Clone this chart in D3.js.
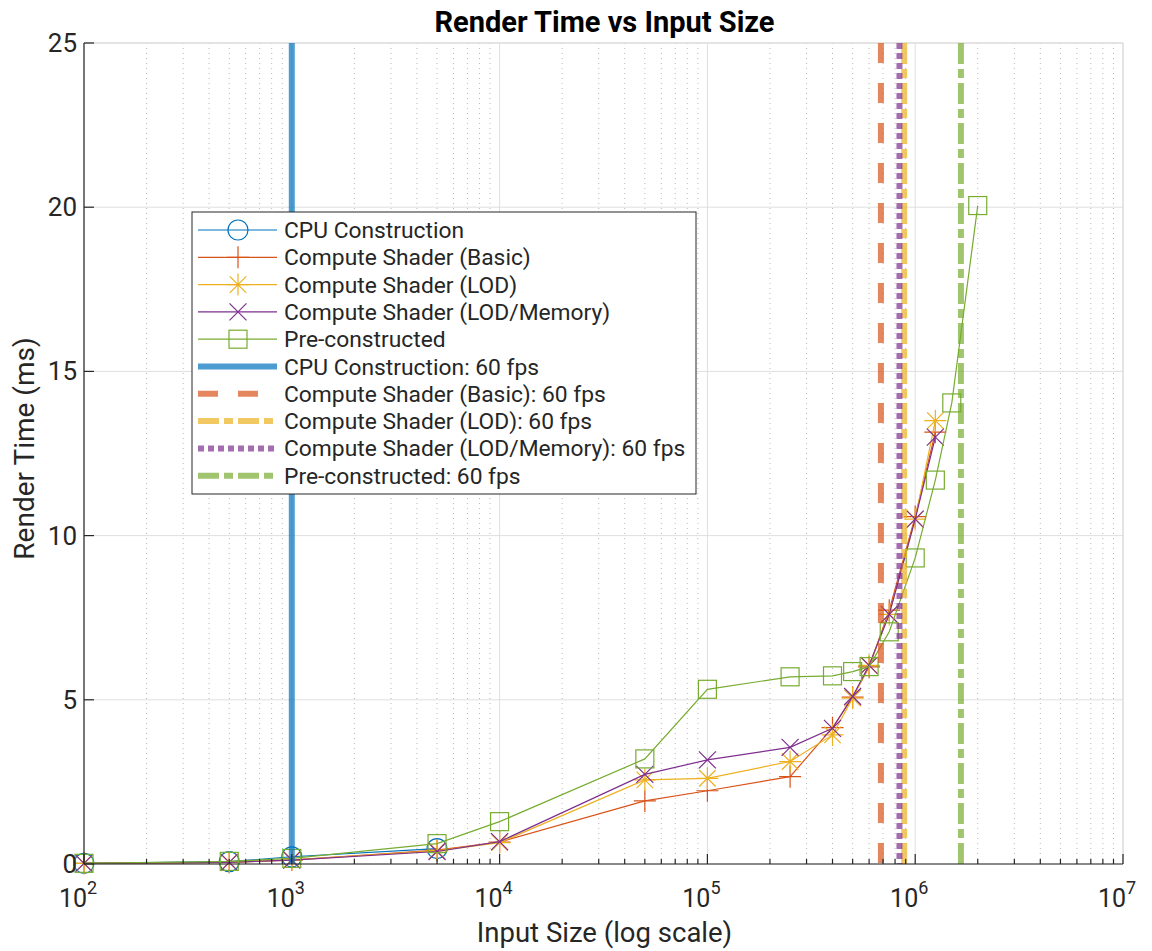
<!DOCTYPE html>
<html>
<head>
<meta charset="utf-8">
<script src="https://cdn.jsdelivr.net/npm/d3@7"></script>
<style>
  html, body { margin: 0; padding: 0; background: #fff; }
  svg { display: block; font-family: Roboto, "Liberation Sans", sans-serif; }
</style>
</head>
<body>
<svg id="chart" width="1152" height="951"></svg>
<script>
// ---- data ----
const sizesShort = [100, 500, 1000, 5000];
const sizesMain = [100, 500, 1000, 5000, 10000, 50000, 100000, 250000, 400000, 500000, 600000, 750000, 1000000, 1250000];
const sizesPre = [100, 500, 1000, 5000, 10000, 50000, 100000, 250000, 400000, 500000, 600000, 750000, 1000000, 1250000, 1500000, 2000000];

const cpuTimes = [0.02, 0.07, 0.22, 0.47];
const basicTimes = [0.02, 0.05, 0.12, 0.42, 0.67, 1.92, 2.23, 2.66, 4.15, 5.08, 6.0, 7.73, 10.58, 13.15];
const lodTimes = [0.02, 0.05, 0.13, 0.40, 0.65, 2.56, 2.61, 3.12, 3.93, 5.05, 6.05, 7.6, 10.5, 13.5];
const lodMemTimes = [0.02, 0.05, 0.12, 0.38, 0.68, 2.73, 3.17, 3.55, 4.13, 5.10, 6.05, 7.6, 10.5, 13.0];
const preTimes = [0.02, 0.08, 0.17, 0.62, 1.29, 3.2, 5.32, 5.7, 5.73, 5.86, 6.01, 7.07, 9.32, 11.69, 14.04, 20.05];

const fpsThresholds = [1000, 684000, 885000, 840000, 1660000];

const seriesNames = ["CPU Construction", "Compute Shader (Basic)", "Compute Shader (LOD)", "Compute Shader (LOD/Memory)", "Pre-constructed"];
const seriesColors = ["#0072BD", "#D95319", "#EDB120", "#7E2F8E", "#77AC30"];
const markers = ["circle", "plus", "star", "cross", "square"];

const xTickExps = [2, 3, 4, 5, 6, 7];
const yTicks = [0, 5, 10, 15, 20, 25];

const titleText = "Render Time vs Input Size";
const xLabel = "Input Size (log scale)";
const yLabel = "Render Time (ms)";

// ---- layout ----
const svg = d3.select("#chart");
const L = 84, R = 1123, T = 43, B = 864;

const x = d3.scaleLog().domain([1e2, 1e7]).range([L, R]);
const y = d3.scaleLinear().domain([0, 25]).range([B, T]);

const series = [
  {x: sizesShort, y: cpuTimes},
  {x: sizesMain, y: basicTimes},
  {x: sizesMain, y: lodTimes},
  {x: sizesMain, y: lodMemTimes},
  {x: sizesPre, y: preTimes}
].map((s, i) => ({...s, name: seriesNames[i], color: seriesColors[i], marker: markers[i]}));

const vDash = ["none", "20,20", "21,5,9,5", "6,4", "21,5,9,5"];

// ---- grid ----
const gGrid = svg.append("g");
const minorVals = [];
for (let e = 2; e < 7; e++) for (let m = 2; m <= 9; m++) minorVals.push(m * Math.pow(10, e));
gGrid.selectAll("line.minor").data(minorVals).enter().append("line")
  .attr("x1", d => x(d)).attr("x2", d => x(d)).attr("y1", T).attr("y2", B)
  .attr("stroke", "#b8b8b8").attr("stroke-width", 1).attr("stroke-dasharray", "1,4");
gGrid.selectAll("line.majx").data(xTickExps).enter().append("line")
  .attr("x1", d => x(Math.pow(10, d))).attr("x2", d => x(Math.pow(10, d))).attr("y1", T).attr("y2", B)
  .attr("stroke", "#dfdfdf").attr("stroke-width", 1);
gGrid.selectAll("line.majy").data(yTicks).enter().append("line")
  .attr("x1", L).attr("x2", R).attr("y1", d => y(d)).attr("y2", d => y(d))
  .attr("stroke", "#dfdfdf").attr("stroke-width", 1);

svg.append("line").attr("x1", L).attr("x2", R).attr("y1", T).attr("y2", T).attr("stroke", "#d9d9d9");
svg.append("line").attr("x1", R).attr("x2", R).attr("y1", T).attr("y2", B).attr("stroke", "#d9d9d9");

// ---- marker drawing ----
function drawMarker(g, type, cx, cy, color) {
  if (type === "circle") {
    g.append("circle").attr("cx", cx).attr("cy", cy).attr("r", 10)
      .attr("fill", "none").attr("stroke", color).attr("stroke-width", 1.2);
  } else if (type === "plus") {
    const h = 11;
    g.append("path").attr("d", `M${cx - h},${cy}H${cx + h}M${cx},${cy - h}V${cy + h}`)
      .attr("stroke", color).attr("stroke-width", 1.2).attr("fill", "none");
  } else if (type === "star") {
    const h = 11, d = h * 0.75;
    g.append("path").attr("d", `M${cx - h},${cy}H${cx + h}M${cx},${cy - h}V${cy + h}M${cx - d},${cy - d}L${cx + d},${cy + d}M${cx - d},${cy + d}L${cx + d},${cy - d}`)
      .attr("stroke", color).attr("stroke-width", 1.2).attr("fill", "none");
  } else if (type === "cross") {
    const h = 8.5;
    g.append("path").attr("d", `M${cx - h},${cy - h}L${cx + h},${cy + h}M${cx - h},${cy + h}L${cx + h},${cy - h}`)
      .attr("stroke", color).attr("stroke-width", 1.2).attr("fill", "none");
  } else if (type === "square") {
    const h = 9;
    g.append("rect").attr("x", cx - h).attr("y", cy - h).attr("width", 2 * h).attr("height", 2 * h)
      .attr("fill", "none").attr("stroke", color).attr("stroke-width", 1.2);
  }
}

// ---- data lines ----
const gData = svg.append("g");
const line = d3.line().x(d => x(d[0])).y(d => y(d[1]));
series.forEach(s => {
  const pts = s.x.map((v, i) => [v, s.y[i]]);
  gData.append("path").datum(pts).attr("d", line)
    .attr("fill", "none").attr("stroke", s.color).attr("stroke-width", 1.2);
  const gm = gData.append("g");
  pts.forEach(p => drawMarker(gm, s.marker, x(p[0]), y(p[1]), s.color));
});

// ---- 60 fps vertical lines ----
const gV = svg.append("g");
fpsThresholds.forEach((v, i) => {
  gV.append("line").attr("x1", x(v)).attr("x2", x(v)).attr("y1", T).attr("y2", B)
    .attr("stroke", seriesColors[i]).attr("stroke-opacity", 0.7).attr("stroke-width", 6)
    .attr("stroke-dasharray", vDash[i]);
});

// ---- axes ----
const axCol = "#262626";
const gAx = svg.append("g").attr("fill", axCol);
gAx.append("line").attr("x1", L).attr("x2", R).attr("y1", B).attr("y2", B).attr("stroke", axCol).attr("stroke-width", 1.2);
gAx.append("line").attr("x1", L).attr("x2", L).attr("y1", T).attr("y2", B).attr("stroke", axCol).attr("stroke-width", 1.2);
gAx.selectAll("line.xt").data(xTickExps).enter().append("line")
  .attr("x1", d => x(Math.pow(10, d))).attr("x2", d => x(Math.pow(10, d)))
  .attr("y1", B).attr("y2", B - 10).attr("stroke", axCol).attr("stroke-width", 1.2);
gAx.selectAll("line.xm").data(minorVals).enter().append("line")
  .attr("x1", d => x(d)).attr("x2", d => x(d))
  .attr("y1", B).attr("y2", B - 5).attr("stroke", axCol).attr("stroke-width", 1.2);
gAx.selectAll("line.yt").data(yTicks).enter().append("line")
  .attr("x1", L).attr("x2", L + 10).attr("y1", d => y(d)).attr("y2", d => y(d))
  .attr("stroke", axCol).attr("stroke-width", 1.2);
xTickExps.forEach(e => {
  const t = gAx.append("text").attr("x", x(Math.pow(10, e)) - 6).attr("y", 907)
    .attr("text-anchor", "middle").attr("font-size", 25);
  t.append("tspan").text("10");
  t.append("tspan").attr("dy", -13).attr("font-size", 18).text(String(e));
});
gAx.selectAll("text.yl").data(yTicks).enter().append("text")
  .attr("x", L - 7).attr("y", d => y(d) + 9).attr("text-anchor", "end").attr("font-size", 26)
  .text(d => d);

svg.append("text").attr("x", (L + R) / 2 + 1).attr("y", 942).attr("text-anchor", "middle")
  .attr("font-size", 27.5).attr("fill", axCol).text(xLabel);
svg.append("text").attr("transform", `translate(34,${(T + B) / 2 - 5}) rotate(-90)`).attr("text-anchor", "middle")
  .attr("font-size", 28).attr("fill", axCol).text(yLabel);
svg.append("text").attr("x", (L + R) / 2 + 1).attr("y", 32).attr("text-anchor", "middle")
  .attr("font-size", 29).attr("font-weight", "bold").attr("fill", "#000").text(titleText);

// ---- legend ----
const lg = svg.append("g");
const lx = 192, ly = 212, lw = 504, lh = 282, rowH = 27.3, firstRow = 230;
lg.append("rect").attr("x", lx).attr("y", ly).attr("width", lw).attr("height", lh)
  .attr("fill", "#fff").attr("stroke", axCol).attr("stroke-width", 1);
const legendItems = [];
series.forEach((s, i) => legendItems.push({label: s.name, type: "data", i}));
series.forEach((s, i) => legendItems.push({label: s.name + ": 60 fps", type: "fps", i}));
legendItems.forEach((it, k) => {
  const cy = firstRow + k * rowH;
  if (it.type === "data") {
    lg.append("line").attr("x1", 198).attr("x2", 277).attr("y1", cy).attr("y2", cy)
      .attr("stroke", seriesColors[it.i]).attr("stroke-width", 1.2);
    drawMarker(lg, markers[it.i], 238, cy, seriesColors[it.i]);
  } else {
    lg.append("line").attr("x1", 198).attr("x2", 277).attr("y1", cy).attr("y2", cy)
      .attr("stroke", seriesColors[it.i]).attr("stroke-opacity", 0.7).attr("stroke-width", 6)
      .attr("stroke-dasharray", vDash[it.i]);
  }
  lg.append("text").attr("x", 284).attr("y", cy + 8).attr("font-size", 22.8).attr("fill", axCol)
    .text(it.label);
});
</script>
</body>
</html>
